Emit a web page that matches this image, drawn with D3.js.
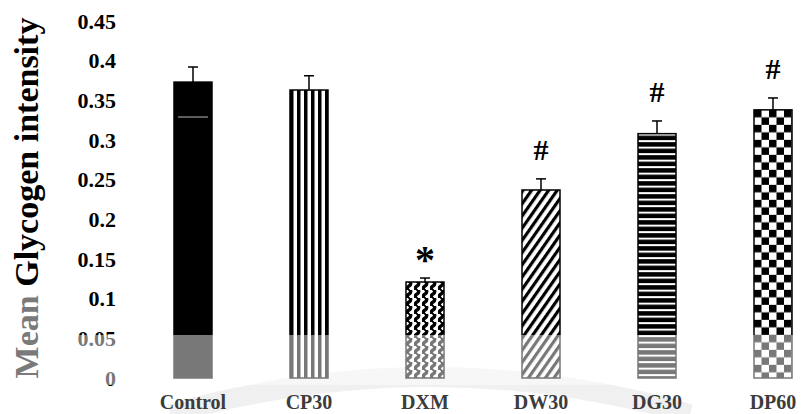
<!DOCTYPE html>
<html>
<head>
<meta charset="utf-8">
<script src="https://cdn.jsdelivr.net/npm/d3@7"></script>
<style>
  html, body { margin: 0; padding: 0; background: #fff; }
  svg { display: block; }
</style>
</head>
<body>
<svg id="chart" width="801" height="414"></svg>
<script>
// Data
const groups = ["Control", "CP30", "DXM", "DW30", "DG30", "DP60"];
const means  = [0.373, 0.363, 0.121, 0.237, 0.308, 0.338];
const errors = [0.019, 0.018, 0.005, 0.014, 0.016, 0.015];
const marks  = ["", "", "*", "#", "#", "#"];
const fills  = ["solid", "vstripe", "wave", "diag", "hstripe", "checker"];
const yTicks = [0, 0.05, 0.1, 0.15, 0.2, 0.25, 0.3, 0.35, 0.4, 0.45];
const yTickLabels = ["0", "0.05", "0.1", "0.15", "0.2", "0.25", "0.3", "0.35", "0.4", "0.45"];
const yTitle = ["Mean", " Glycogen intensity"];

const SERIF = "font-family:'Liberation Serif','Times New Roman','DejaVu Serif',serif;font-weight:bold";

const svg = d3.select("#chart");
const W = 801, H = 414;

const x = d3.scalePoint().domain(groups).range([193, 773]);
const y = d3.scaleLinear().domain([0, 0.45]).range([378, 21]);
const barW = 38;

// Faint watermark sweep behind the plot
svg.append("path")
  .attr("d", "M170,414 Q430,340 690,414")
  .attr("fill", "none")
  .attr("stroke", "#f0f0f0")
  .attr("stroke-width", 20);

// Fill patterns
const defs = svg.append("defs");
function pat(id, w, h, i, extra) {
  const p = defs.append("pattern")
    .attr("id", id)
    .attr("patternUnits", "userSpaceOnUse")
    .attr("width", w).attr("height", h)
    .attr("x", x(groups[i]) - barW / 2)
    .attr("y", y(means[i]));
  if (extra) p.attr("patternTransform", extra);
  p.append("rect").attr("width", w).attr("height", h).attr("fill", "#fff");
  return p;
}
// vertical stripes
pat("vstripe", 7, 10, 1).append("rect").attr("width", 3.5).attr("height", 10).attr("fill", "#000");
// wavy vertical lines
pat("wave", 8, 8, 2).append("path")
  .attr("d", "M3,-1 Q6.5,2 3,4 Q-0.5,6 3,9")
  .attr("fill", "none").attr("stroke", "#000").attr("stroke-width", 3.4);
// diagonal hatch
pat("diag", 7, 10, 3, "rotate(35)").append("rect").attr("width", 3.2).attr("height", 10).attr("fill", "#000");
// horizontal stripes
pat("hstripe", 10, 6.5, 4).append("rect").attr("y", 2).attr("width", 10).attr("height", 4.5).attr("fill", "#000");
// checkerboard
const ck = pat("checker", 15, 15, 5);
ck.append("rect").attr("width", 7.5).attr("height", 7.5).attr("fill", "#000");
ck.append("rect").attr("x", 7.5).attr("y", 7.5).attr("width", 7.5).attr("height", 7.5).attr("fill", "#000");

// Y axis (labels only, no rule)
const yAxis = d3.axisLeft(y)
  .tickValues(yTicks)
  .tickSize(0)
  .tickPadding(0)
  .tickFormat((d, i) => yTickLabels[i]);
const ya = svg.append("g").attr("transform", "translate(116,0)").call(yAxis);
ya.select(".domain").remove();
ya.selectAll("text")
  .attr("style", SERIF + ";font-size:22px")
  .attr("fill", "#000");

// Y title
const t = svg.append("text")
  .attr("transform", "translate(38,198) rotate(-90)")
  .attr("text-anchor", "middle")
  .attr("style", SERIF + ";font-size:34px")
  .attr("fill", "#000");
t.append("tspan").attr("fill", "#7a7a7a").text(yTitle[0]);
t.append("tspan").text(yTitle[1]);

// Bars
const bars = svg.append("g");
groups.forEach((g, i) => {
  bars.append("rect")
    .attr("x", x(g) - barW / 2)
    .attr("y", y(means[i]))
    .attr("width", barW)
    .attr("height", y(0) - y(means[i]))
    .attr("fill", fills[i] === "solid" ? "#000" : `url(#${fills[i]})`)
    .attr("stroke", "#000")
    .attr("stroke-width", 1.5);
});

// thin light line across the Control bar
bars.append("line")
  .attr("x1", x("Control") - barW / 2 + 4).attr("x2", x("Control") + barW / 2 - 4)
  .attr("y1", 117).attr("y2", 117)
  .attr("stroke", "#9a9a9a").attr("stroke-width", 1.2);

// Error bars
const eb = svg.append("g").attr("stroke", "#000").attr("stroke-width", 1.5);
groups.forEach((g, i) => {
  const cx = x(g), top = y(means[i] + errors[i]);
  eb.append("line").attr("x1", cx).attr("x2", cx).attr("y1", y(means[i])).attr("y2", top);
  eb.append("line").attr("x1", cx - 5).attr("x2", cx + 5).attr("y1", top).attr("y2", top);
});

// Significance marks
groups.forEach((g, i) => {
  if (!marks[i]) return;
  const top = y(means[i] + errors[i]);
  svg.append("text")
    .attr("x", x(g))
    .attr("y", marks[i] === "*" ? top - 5 : top - 19)
    .attr("text-anchor", "middle")
    .attr("style", SERIF + ";font-size:" + (marks[i] === "*" ? 40 : 30) + "px")
    .attr("fill", "#000")
    .text(marks[i]);
});

// Lighter band across the base of the plot
svg.append("rect")
  .attr("x", 60).attr("y", 335)
  .attr("width", W - 60).attr("height", 50)
  .attr("fill", "#fff").attr("opacity", 0.47);

// X labels
svg.append("g").selectAll("text")
  .data(groups)
  .join("text")
  .attr("x", d => x(d))
  .attr("y", 409)
  .attr("text-anchor", "middle")
  .attr("style", SERIF + ";font-size:20px")
  .attr("fill", "#3c3c3c")
  .text(d => d);
</script>
</body>
</html>
